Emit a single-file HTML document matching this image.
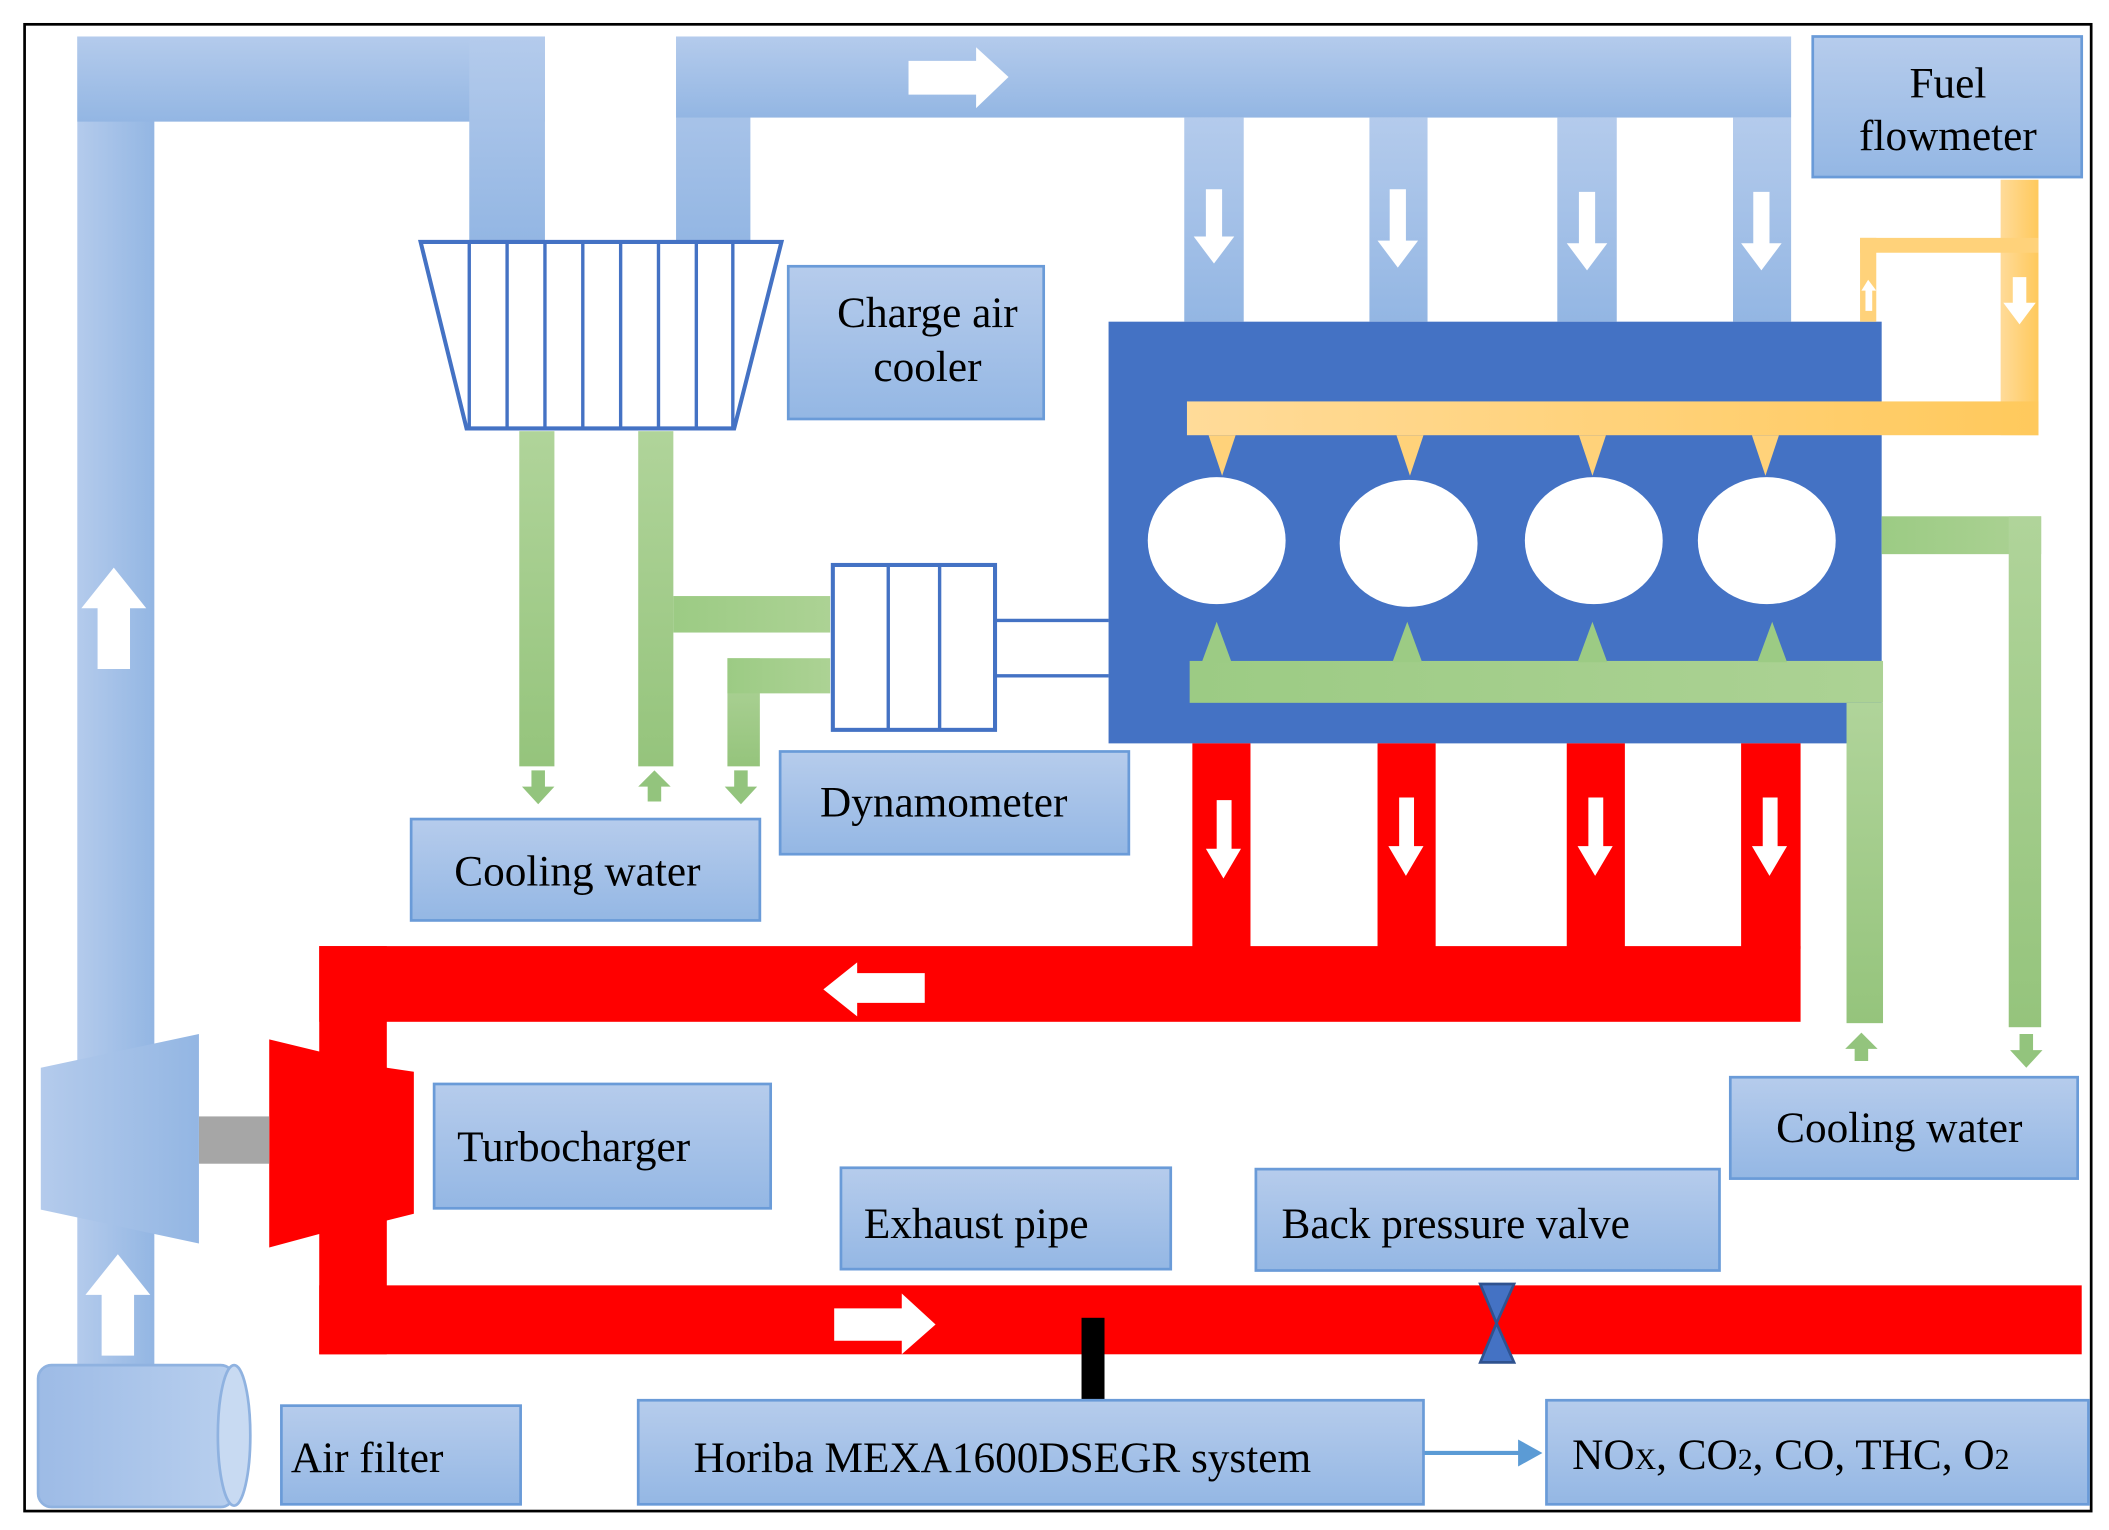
<!DOCTYPE html>
<html><head><meta charset="utf-8"><style>html,body{margin:0;padding:0;background:#fff}svg{display:block}</style></head>
<body>
<svg width="2109" height="1530" viewBox="0 0 1560 1132" xmlns="http://www.w3.org/2000/svg" font-family="Liberation Serif, serif">
<defs>
<linearGradient id="bh" x1="0" y1="0" x2="0" y2="1"><stop offset="0" stop-color="#b4cbec"/><stop offset="1" stop-color="#93b6e3"/></linearGradient>
<linearGradient id="bv" x1="0" y1="0" x2="1" y2="0"><stop offset="0" stop-color="#b4cbec"/><stop offset="1" stop-color="#93b6e3"/></linearGradient>
<linearGradient id="bx" x1="0" y1="0" x2="0" y2="1"><stop offset="0" stop-color="#b6ccec"/><stop offset="1" stop-color="#94b7e4"/></linearGradient>
<linearGradient id="gv" x1="0" y1="0" x2="0" y2="1"><stop offset="0" stop-color="#b0d49a"/><stop offset="1" stop-color="#95c47c"/></linearGradient>
<linearGradient id="gh" x1="0" y1="0" x2="1" y2="0"><stop offset="0" stop-color="#9ccb84"/><stop offset="1" stop-color="#acd294"/></linearGradient>
<linearGradient id="oh" x1="0" y1="0" x2="1" y2="0"><stop offset="0" stop-color="#ffdb99"/><stop offset="1" stop-color="#ffc95c"/></linearGradient>
<linearGradient id="cy" x1="0" y1="0" x2="1" y2="0"><stop offset="0" stop-color="#9dbbe6"/><stop offset="1" stop-color="#b8cfee"/></linearGradient>
</defs>
<rect x="18" y="18" width="1529" height="1100" fill="none" stroke="#000" stroke-width="2"/>
<!-- blue intake pipes -->
<rect x="57" y="27" width="57" height="985" fill="url(#bv)"/>
<rect x="57" y="27" width="346" height="63" fill="url(#bh)"/>
<rect x="347" y="27" width="56" height="152" fill="url(#bh)"/>
<rect x="500" y="27" width="55" height="152" fill="url(#bh)"/>
<rect x="500" y="27" width="825" height="60" fill="url(#bh)"/>
<rect x="876" y="87" width="44" height="151" fill="url(#bh)"/>
<rect x="1013" y="87" width="43" height="151" fill="url(#bh)"/>
<rect x="1152" y="87" width="44" height="151" fill="url(#bh)"/>
<rect x="1282" y="87" width="43" height="151" fill="url(#bh)"/>
<g fill="#fff">
<polygon points="672,45 722,45 722,35 746,57 722,80 722,70 672,70"/>
<polygon points="72,495 96,495 96,450 108,450 84,420 60,450 72,450"/>
<polygon points="75,1003 99,1003 99,958 111,958 87,928 63,958 75,958"/>
<polygon points="892,140 904,140 904,175 913,175 898,195 883,175 892,175"/>
<polygon points="1028,140 1040,140 1040,178 1049,178 1034,198 1019,178 1028,178"/>
<polygon points="1168,142 1180,142 1180,180 1189,180 1174,200 1159,180 1168,180"/>
<polygon points="1297,142 1309,142 1309,180 1318,180 1303,200 1288,180 1297,180"/>
</g>
<!-- charge air cooler -->
<polygon points="311,179 578,179 543,317 345,317" fill="#fff" stroke="#4472c4" stroke-width="3"/>
<g stroke="#4472c4" stroke-width="2.5"><line x1="347" y1="179" x2="347" y2="317"/><line x1="375" y1="179" x2="375" y2="317"/><line x1="403" y1="179" x2="403" y2="317"/><line x1="431" y1="179" x2="431" y2="317"/><line x1="459" y1="179" x2="459" y2="317"/><line x1="487" y1="179" x2="487" y2="317"/><line x1="515" y1="179" x2="515" y2="317"/><line x1="542" y1="179" x2="542" y2="317"/></g>
<!-- green lines left -->
<rect x="384" y="319" width="26" height="248" fill="url(#gv)"/>
<rect x="472" y="319" width="26" height="248" fill="url(#gv)"/>
<rect x="498" y="441" width="116" height="27" fill="url(#gh)"/>
<rect x="538" y="487" width="24" height="80" fill="url(#gv)"/>
<rect x="538" y="487" width="76" height="26" fill="url(#gh)"/>
<g fill="#93c47d">
<polygon points="393,570 403,570 403,582 410,582 398,595 386,582 393,582"/>
<polygon points="479,593 489,593 489,582 496,582 484,570 472,582 479,582"/>
<polygon points="543,570 553,570 553,582 560,582 548,595 536,582 543,582"/>
<polygon points="1372,785 1382,785 1382,776 1389,776 1377,764 1365,776 1372,776"/>
<polygon points="1494,765 1504,765 1504,777 1511,777 1499,790 1487,777 1494,777"/>
</g>
<!-- dynamometer -->
<rect x="616" y="418" width="120" height="122" fill="#fff" stroke="#4472c4" stroke-width="3"/>
<line x1="657" y1="418" x2="657" y2="540" stroke="#4472c4" stroke-width="2.5"/>
<line x1="695" y1="418" x2="695" y2="540" stroke="#4472c4" stroke-width="2.5"/>
<line x1="736" y1="459" x2="820" y2="459" stroke="#4472c4" stroke-width="2.5"/>
<line x1="736" y1="500" x2="820" y2="500" stroke="#4472c4" stroke-width="2.5"/>
<!-- engine -->
<rect x="820" y="238" width="572" height="312" fill="#4472c4"/>
<!-- fuel -->
<rect x="1480" y="133" width="28" height="189" fill="url(#oh)"/>
<rect x="1376" y="176" width="132" height="11" fill="#ffd27a"/>
<rect x="1376" y="176" width="12" height="62" fill="#ffd27a"/>
<rect x="878" y="297" width="630" height="25" fill="url(#oh)"/>
<polygon points="1380,230 1385,230 1385,215 1388,215 1382,207 1377,215 1380,215" fill="#fff"/>
<polygon points="1489,205 1499,205 1499,224 1506,224 1494,240 1482,224 1489,224" fill="#fff"/>
<g fill="#ffd27a">
<polygon points="894,322 914,322 904,352"/><polygon points="1033,322 1053,322 1043,352"/><polygon points="1168,322 1188,322 1178,352"/><polygon points="1296,322 1316,322 1306,352"/>
</g>
<g fill="#fff"><ellipse cx="900" cy="400" rx="51" ry="47"/><ellipse cx="1042" cy="402" rx="51" ry="47"/><ellipse cx="1179" cy="400" rx="51" ry="47"/><ellipse cx="1307" cy="400" rx="51" ry="47"/></g>
<!-- green rail -->
<rect x="880" y="489" width="513" height="31" fill="url(#gh)"/>
<g fill="#9ccb84"><polygon points="889,490 911,490 900,460"/><polygon points="1030,490 1052,490 1041,460"/><polygon points="1167,490 1189,490 1178,460"/><polygon points="1300,490 1322,490 1311,460"/></g>
<rect x="1366" y="520" width="27" height="237" fill="url(#gv)"/>
<rect x="1392" y="382" width="118" height="28" fill="url(#gh)"/>
<rect x="1486" y="382" width="24" height="378" fill="url(#gv)"/>
<!-- exhaust -->
<g fill="#ff0000">
<rect x="882" y="550" width="43" height="152"/><rect x="1019" y="550" width="43" height="152"/><rect x="1159" y="550" width="43" height="152"/><rect x="1288" y="550" width="44" height="152"/>
<rect x="236" y="700" width="1096" height="56"/>
<rect x="236" y="700" width="50" height="302"/>
<rect x="236" y="951" width="1304" height="51"/>
<polygon points="199,769 236,778 286,790 306,793 306,898 286,903 236,913 199,923"/>
</g>
<g fill="#fff">
<polygon points="684,720 634,720 634,712 609,732 634,752 634,742 684,742"/>
<polygon points="617,968 667,968 667,957 692,980 667,1002 667,992 617,992"/>
<polygon points="900,592 911,592 911,628 918,628 905,650 892,628 900,628"/>
<polygon points="1035,590 1046,590 1046,626 1053,626 1040,648 1027,626 1035,626"/>
<polygon points="1175,590 1186,590 1186,626 1193,626 1180,648 1167,626 1175,626"/>
<polygon points="1304,590 1315,590 1315,626 1322,626 1309,648 1296,626 1304,626"/>
</g>
<rect x="147" y="826" width="52" height="35" fill="#a6a6a6"/>
<polygon points="30,790 147,765 147,920 30,895" fill="url(#bv)"/>
<!-- air filter -->
<rect x="28" y="1010" width="145" height="105" rx="10" fill="url(#cy)" stroke="#8fb2e0" stroke-width="2"/>
<ellipse cx="173" cy="1062" rx="12" ry="52" fill="#c8daf2" stroke="#8fb2e0" stroke-width="2"/>
<!-- valve, probe -->
<polygon points="1095,950 1120,950 1107,979 1120,1008 1095,1008 1107,979" fill="#4472c4" stroke="#2f528f" stroke-width="2"/>
<rect x="800" y="975" width="17" height="61" fill="#000"/>
<line x1="1053" y1="1075" x2="1125" y2="1075" stroke="#5b9bd5" stroke-width="3"/>
<polygon points="1123,1065 1141,1075 1123,1085" fill="#5b9bd5"/>
<!-- boxes -->
<g fill="url(#bx)" stroke="#6a9bd8" stroke-width="2">
<rect x="1341" y="27" width="199" height="104"/>
<rect x="583" y="197" width="189" height="113"/>
<rect x="577" y="556" width="258" height="76"/>
<rect x="304" y="606" width="258" height="75"/>
<rect x="1280" y="797" width="257" height="75"/>
<rect x="321" y="802" width="249" height="92"/>
<rect x="622" y="864" width="244" height="75"/>
<rect x="929" y="865" width="343" height="75"/>
<rect x="208" y="1040" width="177" height="73"/>
<rect x="472" y="1036" width="581" height="77"/>
<rect x="1144" y="1036" width="401" height="77"/>
</g>
<g font-size="32" fill="#000">
<text x="1441" y="72" text-anchor="middle">Fuel</text>
<text x="1441" y="111" text-anchor="middle">flowmeter</text>
<text x="686" y="242" text-anchor="middle">Charge air</text>
<text x="686" y="282" text-anchor="middle">cooler</text>
<text x="698" y="604" text-anchor="middle">Dynamometer</text>
<text x="427" y="655" text-anchor="middle">Cooling water</text>
<text x="1405" y="845" text-anchor="middle">Cooling water</text>
<text x="338" y="859">Turbocharger</text>
<text x="639" y="916">Exhaust pipe</text>
<text x="948" y="916">Back pressure valve</text>
<text x="215" y="1089">Air filter</text>
<text x="513" y="1089">Horiba MEXA1600DSEGR system</text>
<text x="1163" y="1087">NO<tspan font-size="22">X</tspan>, CO<tspan font-size="22">2</tspan>, CO, THC, O<tspan font-size="22">2</tspan></text>
</g>
</svg>
</body></html>
